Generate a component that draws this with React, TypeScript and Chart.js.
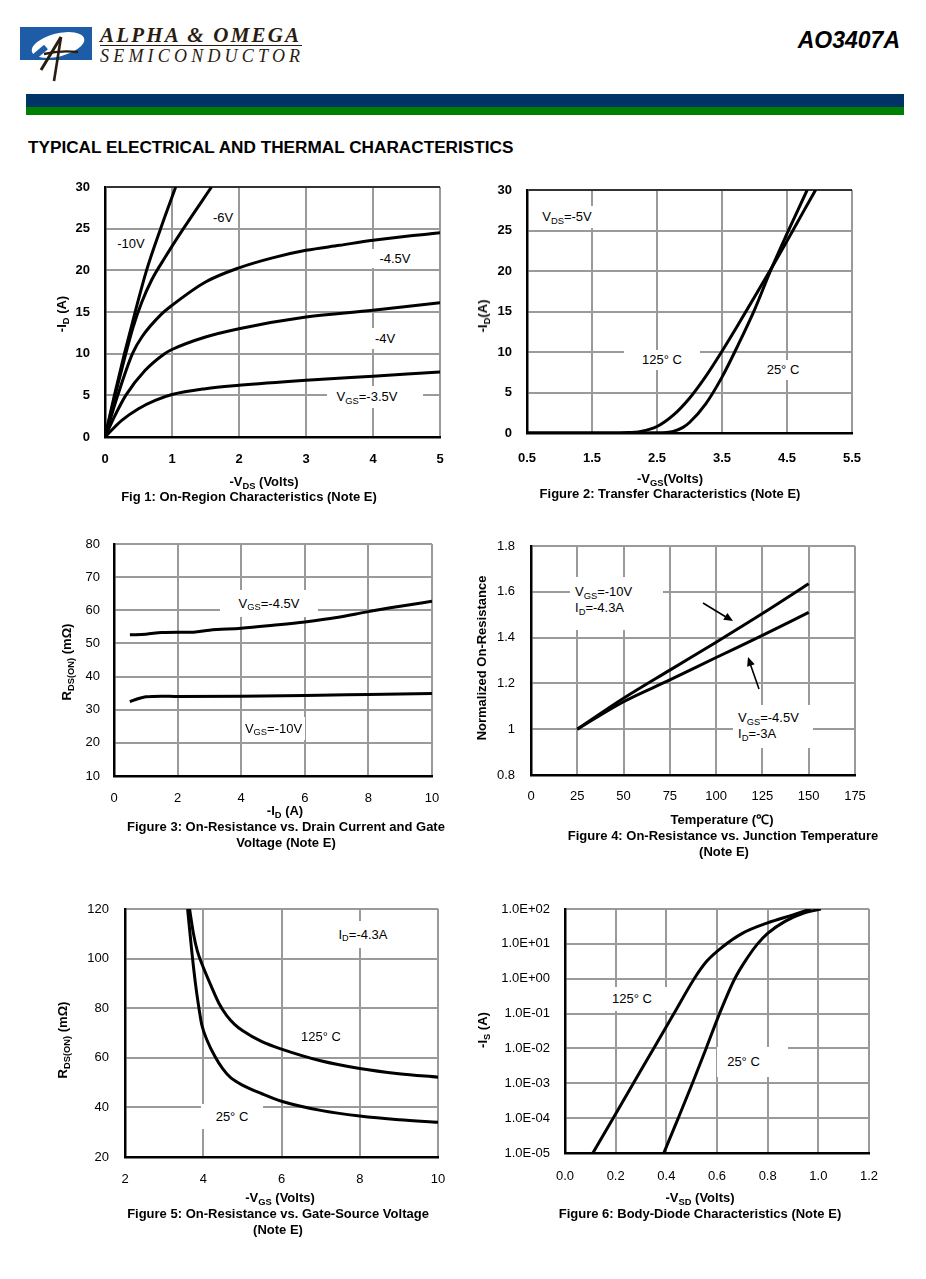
import React, { useEffect, useRef } from "react";
import { Chart, registerables } from "chart.js";

Chart.register(...registerables);

const FONT = '"Liberation Sans", Arial, Helvetica, sans-serif';
const SERIF = '"Liberation Serif", "Times New Roman", serif';
const GRID = "#9a9a9a";

// ---------- Figure 1: On-Region Characteristics ----------
const fig1Vds10 = [0, 0.14, 0.29, 0.45, 0.62, 0.83, 1.055];
const fig1Id10 = [0, 5, 10, 15, 20, 25, 30];
const fig1Vds6 = [0, 0.15, 0.31, 0.42, 0.55, 0.7, 0.9, 1.17, 1.59];
const fig1Id6 = [0, 5, 10, 13.2, 16.2, 18.9, 21.6, 25, 30];
const fig1Vds45 = [0, 0.19, 0.41, 0.55, 0.85, 1, 1.5, 2, 2.5, 3, 3.5, 4, 4.5, 5];
const fig1Id45 = [0, 5, 10, 12, 14.8, 15.8, 18.6, 20.3, 21.5, 22.4, 23, 23.6, 24.1, 24.5];
const fig1Vds4 = [0, 0.15, 0.31, 0.6, 0.89, 1, 1.5, 2, 3, 4, 5];
const fig1Id4 = [0, 2.6, 5, 8, 10, 10.5, 12, 13, 14.4, 15.2, 16.1];
const fig1Vds35 = [0, 0.25, 0.5, 0.75, 1, 1.5, 2, 3, 4, 5];
const fig1Id35 = [0, 2.0, 3.4, 4.4, 5.1, 5.8, 6.2, 6.8, 7.3, 7.8];

// ---------- Figure 2: Transfer Characteristics ----------
const fig2Vgs25 = [0.5, 2.0, 2.5, 2.75, 2.9, 3.0, 3.25, 3.5, 3.75, 4.0, 4.25, 4.5, 4.81];
const fig2Id25 = [0, 0, 0.02, 0.2, 0.7, 1.3, 3.6, 6.9, 10.9, 15.2, 20.1, 24.6, 30];
const fig2Vgs125 = [0.5, 1.8, 2.0, 2.25, 2.5, 2.75, 3.0, 3.25, 3.5, 3.75, 4.0, 4.25, 4.5, 4.75, 4.94];
const fig2Id125 = [0, 0, 0.03, 0.2, 0.8, 2.2, 4.3, 7.0, 10.1, 13.4, 16.8, 20.2, 23.7, 27.3, 30];

// ---------- Figure 3: On-Resistance vs Drain Current ----------
const fig3Id45 = [0.5, 1, 1.5, 2, 2.5, 3, 4, 5, 6, 7, 8, 9, 10];
const fig3R45 = [52.6, 52.8, 53.3, 53.4, 53.4, 54, 54.6, 55.5, 56.5, 57.8, 59.6, 61.2, 62.7];
const fig3Id10 = [0.5, 0.75, 1, 1.5, 2, 4, 6, 8, 10];
const fig3R10 = [32.4, 33.3, 33.9, 34.1, 34, 34.1, 34.3, 34.6, 34.9];

// ---------- Figure 4: Normalized On-Resistance vs Temperature ----------
const fig4Temp = [25, 50, 75, 100, 125, 150];
const fig4R10 = [1, 1.135, 1.258, 1.38, 1.505, 1.635];
const fig4R45 = [1, 1.12, 1.215, 1.313, 1.41, 1.51];

// ---------- Figure 5: On-Resistance vs Gate-Source Voltage ----------
const fig5Vgs125 = [3.65, 3.75, 3.85, 4.0, 4.2, 4.4, 4.6, 4.8, 5, 5.5, 6, 7, 8, 9, 10];
const fig5R125 = [120, 110, 103, 96.5, 89, 82, 77, 73.5, 71, 66.5, 63.5, 58.8, 55.7, 53.6, 52.2];
const fig5Vgs25 = [3.6, 3.7, 3.8, 3.9, 3.96, 4.1, 4.3, 4.5, 4.7, 5, 5.5, 6, 7, 8, 9, 10];
const fig5R25 = [120, 104, 90, 79, 73.5, 67, 60.5, 55.5, 52, 49, 45.5, 42.5, 38.8, 36.5, 35, 34];

// ---------- Figure 6: Body-Diode Characteristics ----------
const fig6Vsd125 = [0.11, 0.19, 0.27, 0.35, 0.43, 0.51, 0.56, 0.62, 0.7, 0.8, 0.9, 0.97];
const fig6Is125 = [1e-5, 1e-4, 1e-3, 1e-2, 1e-1, 1, 3.2, 8, 20, 40, 68, 100];
const fig6Vsd25 = [0.39, 0.447, 0.503, 0.557, 0.61, 0.67, 0.72, 0.76, 0.8, 0.87, 0.94, 1.01];
const fig6Is25 = [1e-5, 1e-4, 1e-3, 1e-2, 1e-1, 1, 4, 10, 20, 45, 75, 100];
const fig6YTicks = [1e-5, 1e-4, 1e-3, 1e-2, 1e-1, 1, 10, 100];

type Spec = {
  l: number; t: number; r: number; b: number;
  yPad: number; xPad: number; bold: boolean; topDark: boolean;
};
const PAD_L = 75;
const PAD_B = 40;
const PAD_T = 32;
const PAD_R = 40;

function pts(xs: number[], ys: number[]) {
  return xs.map((x, i) => ({ x, y: ys[i] }));
}

function ds(xs: number[], ys: number[]) {
  return {
    data: pts(xs, ys),
    borderColor: "#000",
    borderWidth: 3,
    pointRadius: 0,
    fill: false,
    cubicInterpolationMode: "monotone" as const,
  };
}

type AxisOpt = {
  min: number; max: number; step?: number; log?: boolean;
  fmt?: (v: number) => string; ticks?: number[];
};

function buildConfig(spec: Spec, datasets: any[], xo: AxisOpt, yo: AxisOpt): any {
  const tickFont = { family: FONT, size: 13, weight: spec.bold ? ("bold" as const) : ("normal" as const) };
  const x: any = {
    type: "linear",
    min: xo.min,
    max: xo.max,
    ticks: {
      stepSize: xo.step,
      padding: spec.xPad,
      font: tickFont,
      color: "#000",
      maxRotation: 0,
      autoSkip: false,
      callback: xo.fmt ? (v: any) => xo.fmt!(Number(v)) : undefined,
    },
    grid: { color: GRID, lineWidth: 2, drawTicks: false },
    border: { display: true, color: "#000", width: 2.5, z: 1 },
    afterFit: (s: any) => { s.height = PAD_B; },
  };
  const y: any = {
    type: yo.log ? "logarithmic" : "linear",
    min: yo.min,
    max: yo.max,
    ticks: {
      stepSize: yo.step,
      padding: spec.yPad,
      font: tickFont,
      color: "#000",
      autoSkip: false,
      callback: yo.fmt ? (v: any) => yo.fmt!(Number(v)) : undefined,
    },
    grid: {
      color: (c: any) => (spec.topDark && c.tick && Math.abs(c.tick.value - yo.max) < 1e-9 ? "#333" : GRID),
      lineWidth: 2,
      drawTicks: false,
    },
    border: { display: true, color: "#000", width: 2.5, z: 1 },
    afterFit: (s: any) => { s.width = PAD_L; },
  };
  if (yo.ticks) {
    y.afterBuildTicks = (s: any) => { s.ticks = yo.ticks!.map((v) => ({ value: v })); };
  }
  return {
    type: "line",
    data: { datasets },
    options: {
      animation: false,
      responsive: false,
      events: [],
      layout: { padding: { top: PAD_T, right: PAD_R, left: 0, bottom: 0 } },
      plugins: { legend: { display: false }, tooltip: { enabled: false } },
      scales: { x, y },
    },
  };
}

function PlotChart({ spec, make }: { spec: Spec; make: () => any }) {
  const ref = useRef<HTMLCanvasElement>(null);
  useEffect(() => {
    const chart = new Chart(ref.current as HTMLCanvasElement, make());
    return () => chart.destroy();
  }, []);
  const w = spec.r - spec.l + PAD_L + PAD_R;
  const h = spec.b - spec.t + PAD_T + PAD_B;
  return (
    <canvas
      ref={ref}
      width={w}
      height={h}
      style={{ position: "absolute", left: spec.l - PAD_L, top: spec.t - PAD_T, width: w, height: h }}
    />
  );
}

function Sub({ children }: { children: React.ReactNode }) {
  return (
    <span style={{ fontSize: "0.72em", position: "relative", top: "0.3em", lineHeight: 0 }}>{children}</span>
  );
}

function T({
  x, y, children, size = 13, bold = false, rotate = false,
}: { x: number; y: number; children: React.ReactNode; size?: number; bold?: boolean; rotate?: boolean }) {
  return (
    <div
      style={{
        position: "absolute",
        left: x,
        top: y,
        transform: "translate(-50%,-50%)" + (rotate ? " rotate(-90deg)" : ""),
        fontSize: size,
        fontWeight: bold ? 700 : 400,
        whiteSpace: "nowrap",
        lineHeight: "16px",
        fontFamily: FONT,
        color: "#000",
      }}
    >
      {children}
    </div>
  );
}

function Box({
  x, y, w, h, children, left = false, padTop = 0, padLeft = 0,
}: { x: number; y: number; w: number; h: number; children: React.ReactNode; left?: boolean; padTop?: number; padLeft?: number }) {
  return (
    <div
      style={{
        position: "absolute",
        left: x,
        top: y,
        width: w,
        height: h,
        background: "#fff",
        boxSizing: "border-box",
        display: "flex",
        flexDirection: "column",
        alignItems: left ? "flex-start" : "center",
        justifyContent: left ? "flex-start" : "center",
        paddingTop: padTop,
        paddingLeft: padLeft,
        fontFamily: FONT,
        fontSize: 13,
        lineHeight: "16px",
        whiteSpace: "nowrap",
        color: "#000",
      }}
    >
      {children}
    </div>
  );
}

const spec1: Spec = { l: 105, t: 187, r: 440, b: 437, yPad: 15, xPad: 15, bold: true, topDark: true };
const spec2: Spec = { l: 527, t: 190, r: 852, b: 433, yPad: 15, xPad: 17.5, bold: true, topDark: true };
const spec3: Spec = { l: 114, t: 544, r: 432, b: 776, yPad: 14, xPad: 14.5, bold: false, topDark: false };
const spec4: Spec = { l: 531, t: 546, r: 855, b: 775, yPad: 16, xPad: 14, bold: false, topDark: false };
const spec5: Spec = { l: 125, t: 909, r: 438, b: 1157, yPad: 16, xPad: 15, bold: false, topDark: false };
const spec6: Spec = { l: 565, t: 909, r: 869, b: 1153, yPad: 15, xPad: 16, bold: false, topDark: false };

const fmt1 = (v: number) => v.toFixed(1);
const fmtTrim = (v: number) => String(Number(v.toFixed(1)));
const fmtSci = (v: number) => {
  const e = Math.round(Math.log10(v));
  return "1.0E" + (e < 0 ? "-" : "+") + String(Math.abs(e)).padStart(2, "0");
};

export default function App() {
  return (
    <div style={{ position: "absolute", left: 0, top: 0, width: 926, height: 1279, background: "#fff", overflow: "hidden", fontFamily: FONT }}>
      {/* Header */}
      <svg style={{ position: "absolute", left: 0, top: 0 }} width={110} height={90}>
        <rect x={20} y={27} width={72} height={33} fill="#1f5ca8" />
        <ellipse cx={58} cy={45} rx={27} ry={11.5} fill="#fff" transform="rotate(-14 58 45)" />
        <path d="M33 58 L46 47" stroke="#1f5ca8" strokeWidth={6} />
        <path d="M41 70 L61 37" stroke="#2a1c10" strokeWidth={3} fill="none" />
        <path d="M61 37 L54 81" stroke="#2a1c10" strokeWidth={2.6} fill="none" />
        <path d="M44 54 Q60 50 78 52" stroke="#2a1c10" strokeWidth={2.4} fill="none" />
      </svg>
      <div style={{ position: "absolute", left: 100, top: 24, fontFamily: SERIF, fontStyle: "italic", fontWeight: 700, fontSize: 21, letterSpacing: 2.2, color: "#2a1c10", whiteSpace: "nowrap", lineHeight: "22px" }}>
        ALPHA &amp; OMEGA
      </div>
      <div style={{ position: "absolute", left: 100, top: 45, width: 202, height: 1, background: "#2a1c10" }} />
      <div style={{ position: "absolute", left: 100, top: 46, fontFamily: SERIF, fontStyle: "italic", fontSize: 18, letterSpacing: 4.2, color: "#2a1c10", whiteSpace: "nowrap", lineHeight: "20px" }}>
        SEMICONDUCTOR
      </div>
      <div style={{ position: "absolute", right: 26, top: 27, fontFamily: FONT, fontStyle: "italic", fontWeight: 700, fontSize: 23, color: "#000", whiteSpace: "nowrap", lineHeight: "26px" }}>
        AO3407A
      </div>
      <div style={{ position: "absolute", left: 26, top: 94, width: 878, height: 13, background: "#003366" }} />
      <div style={{ position: "absolute", left: 26, top: 107, width: 878, height: 8, background: "#008000" }} />
      <div style={{ position: "absolute", left: 28, top: 137, fontFamily: FONT, fontWeight: 700, fontSize: 17.2, whiteSpace: "nowrap", lineHeight: "20px", color: "#000" }}>
        TYPICAL ELECTRICAL AND THERMAL CHARACTERISTICS
      </div>

      {/* Charts */}
      <PlotChart
        spec={spec1}
        make={() =>
          buildConfig(
            spec1,
            [ds(fig1Vds10, fig1Id10), ds(fig1Vds6, fig1Id6), ds(fig1Vds45, fig1Id45), ds(fig1Vds4, fig1Id4), ds(fig1Vds35, fig1Id35)],
            { min: 0, max: 5, step: 1 },
            { min: 0, max: 30, step: 5 }
          )
        }
      />
      <PlotChart
        spec={spec2}
        make={() =>
          buildConfig(spec2, [ds(fig2Vgs25, fig2Id25), ds(fig2Vgs125, fig2Id125)], { min: 0.5, max: 5.5, step: 1, fmt: fmt1 }, { min: 0, max: 30, step: 5 })
        }
      />
      <PlotChart
        spec={spec3}
        make={() =>
          buildConfig(spec3, [ds(fig3Id45, fig3R45), ds(fig3Id10, fig3R10)], { min: 0, max: 10, step: 2 }, { min: 10, max: 80, step: 10 })
        }
      />
      <PlotChart
        spec={spec4}
        make={() =>
          buildConfig(spec4, [ds(fig4Temp, fig4R10), ds(fig4Temp, fig4R45)], { min: 0, max: 175, step: 25 }, { min: 0.8, max: 1.8, step: 0.2, fmt: fmtTrim })
        }
      />
      <PlotChart
        spec={spec5}
        make={() =>
          buildConfig(spec5, [ds(fig5Vgs125, fig5R125), ds(fig5Vgs25, fig5R25)], { min: 2, max: 10, step: 2 }, { min: 20, max: 120, step: 20 })
        }
      />
      <PlotChart
        spec={spec6}
        make={() =>
          buildConfig(
            spec6,
            [ds(fig6Vsd125, fig6Is125), ds(fig6Vsd25, fig6Is25)],
            { min: 0, max: 1.2, step: 0.2, fmt: fmt1 },
            { min: 1e-5, max: 100, log: true, fmt: fmtSci, ticks: fig6YTicks }
          )
        }
      />

      {/* Figure 1 texts */}
      <Box x={112} y={233} w={38} h={21}>-10V</Box>
      <Box x={209} y={209} w={28} h={18}>-6V</Box>
      <Box x={366} y={249} w={58} h={19}>-4.5V</Box>
      <Box x={366} y={328} w={38} h={21}>-4V</Box>
      <Box x={327} y={386} w={96} h={22}>
        <span style={{ marginRight: 16 }}>V<Sub>GS</Sub>=-3.5V</span>
      </Box>
      <T x={62} y={314} bold rotate>-I<Sub>D</Sub> (A)</T>
      <T x={264} y={482} bold>-V<Sub>DS</Sub> (Volts)</T>
      <T x={249} y={497} bold>Fig 1: On-Region Characteristics (Note E)</T>

      {/* Figure 2 texts */}
      <Box x={535} y={206} w={64} h={22}>
        <span>V<Sub>DS</Sub>=-5V</span>
      </Box>
      <Box x={624} y={350} w={76} h={20}>125° C</Box>
      <Box x={758} y={360} w={50} h={20}>25° C</Box>
      <T x={483} y={316} bold rotate>-I<Sub>D</Sub>(A)</T>
      <T x={670} y={479} bold>-V<Sub>GS</Sub>(Volts)</T>
      <T x={670} y={494} bold>Figure 2: Transfer Characteristics (Note E)</T>

      {/* Figure 3 texts */}
      <Box x={220} y={590} w={98} h={27}>
        <span>V<Sub>GS</Sub>=-4.5V</span>
      </Box>
      <Box x={242} y={717} w={63} h={23}>
        <span>V<Sub>GS</Sub>=-10V</span>
      </Box>
      <T x={67} y={662} bold rotate>R<Sub>DS(ON)</Sub> (mΩ)</T>
      <T x={285} y={811} bold>-I<Sub>D</Sub> (A)</T>
      <T x={286} y={827} bold>Figure 3: On-Resistance vs. Drain Current and Gate</T>
      <T x={286} y={843} bold>Voltage (Note E)</T>

      {/* Figure 4 texts */}
      <Box x={570} y={577} w={93} h={53} left padTop={7} padLeft={5}>
        <span>V<Sub>GS</Sub>=-10V</span>
        <span>I<Sub>D</Sub>=-4.3A</span>
      </Box>
      <Box x={733} y={705} w={80} h={43} left padTop={5} padLeft={5}>
        <span>V<Sub>GS</Sub>=-4.5V</span>
        <span>I<Sub>D</Sub>=-3A</span>
      </Box>
      <svg style={{ position: "absolute", left: 0, top: 0, pointerEvents: "none" }} width={926} height={900}>
        <line x1={703} y1={603} x2={726} y2={617} stroke="#000" strokeWidth={1.6} />
        <polygon points="733,621 723.2,619.8 727.4,613" fill="#000" />
        <line x1={759} y1={689} x2={750.6} y2={665} stroke="#000" strokeWidth={1.6} />
        <polygon points="748,657 754.7,664.2 747.1,666.8" fill="#000" />
      </svg>
      <T x={482} y={658} bold rotate>Normalized On-Resistance</T>
      <T x={722} y={820} bold>Temperature (℃)</T>
      <T x={723} y={836} bold>Figure 4: On-Resistance vs. Junction Temperature</T>
      <T x={724} y={852} bold>(Note E)</T>

      {/* Figure 5 texts */}
      <Box x={334} y={921} w={58} h={27}>
        <span>I<Sub>D</Sub>=-4.3A</span>
      </Box>
      <Box x={294} y={1027} w={54} h={20}>125° C</Box>
      <Box x={201} y={1104} w={62} h={25}>25° C</Box>
      <T x={63} y={1040} bold rotate>R<Sub>DS(ON)</Sub> (mΩ)</T>
      <T x={280} y={1198} bold>-V<Sub>GS</Sub> (Volts)</T>
      <T x={278} y={1214} bold>Figure 5: On-Resistance vs. Gate-Source Voltage</T>
      <T x={278} y={1230} bold>(Note E)</T>

      {/* Figure 6 texts */}
      <Box x={597} y={987} w={70} h={24}>125° C</Box>
      <Box x={717} y={1047} w={71} h={30}>
        <span style={{ marginRight: 18 }}>25° C</span>
      </Box>
      <T x={483} y={1030} bold rotate>-I<Sub>S</Sub> (A)</T>
      <T x={700} y={1198} bold>-V<Sub>SD</Sub> (Volts)</T>
      <T x={700} y={1214} bold>Figure 6: Body-Diode Characteristics (Note E)</T>
    </div>
  );
}
